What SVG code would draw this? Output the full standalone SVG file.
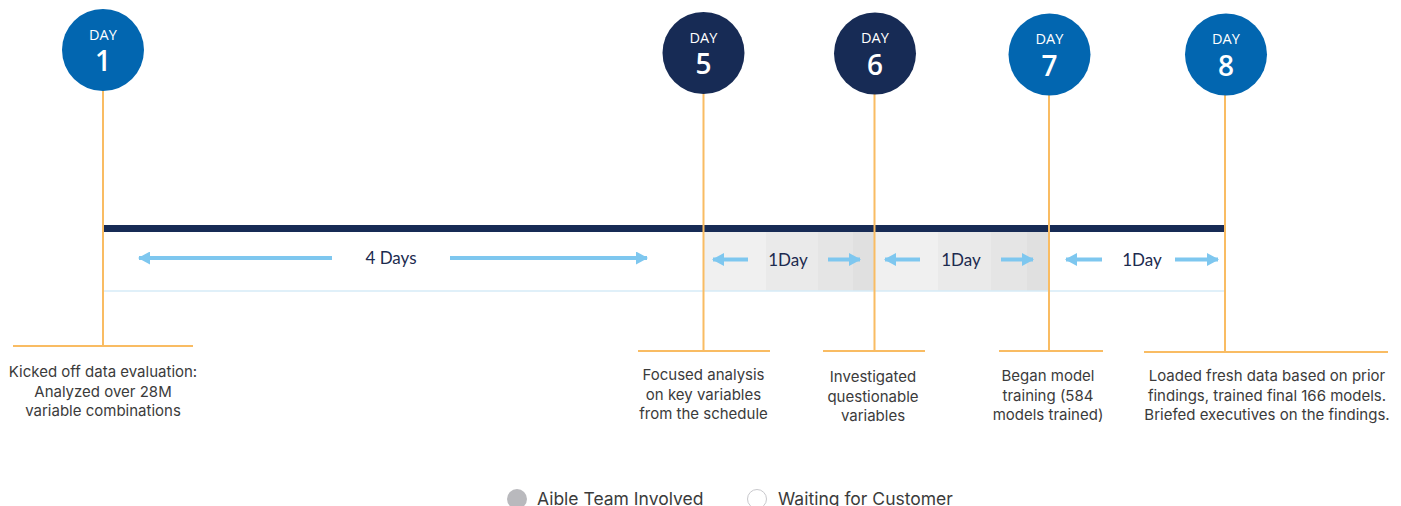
<svg xmlns="http://www.w3.org/2000/svg" width="1401" height="506" viewBox="0 0 1401 506">
  <style>
    .bg { fill: #ffffff; }
    .badge-blue { fill: #0266b0; }
    .badge-navy { fill: #172b55; }
    .badge-day { font-family: "Open Sans", "Noto Sans", sans-serif; font-size: 14.5px; fill: #ffffff; text-anchor: middle; }
    .badge-num { font-family: "Open Sans", "Noto Sans", sans-serif; font-size: 28px; font-weight: 600; fill: #ffffff; text-anchor: middle; }
    .stem { stroke: #f9bc63; stroke-width: 2; fill: none; }
    .desc { font-family: Inter, "Noto Sans", sans-serif; font-size: 15px; fill: #3b3b3b; text-anchor: middle; }
    .span { font-family: Lato, Inter, sans-serif; font-size: 17px; fill: #1c2b4f; text-anchor: middle; }
    .shaft { stroke: #7ec7ef; stroke-width: 4; fill: none; }
    .legend { font-family: Inter, "Noto Sans", sans-serif; font-size: 17.5px; fill: #3b3b3b; }
  </style>
  <defs>
    <marker id="head" viewBox="0 0 12 13" refX="11" refY="6.5" markerWidth="12" markerHeight="13" markerUnits="userSpaceOnUse" orient="auto">
      <path d="M0,0 L12,6.5 L0,13 Z" fill="#7ec7ef"/>
    </marker>
  </defs>

  <rect class="bg" x="0" y="0" width="1401" height="506"/>

  <!-- shaded day bands between Day 5 and Day 7 -->
  <g id="bands">
    <rect x="703" y="232" width="63" height="59" fill="#f0f0f0"/>
    <rect x="766" y="232" width="52" height="59" fill="#eaeaea"/>
    <rect x="818" y="232" width="35" height="59" fill="#e5e5e5"/>
    <rect x="853" y="232" width="21" height="59" fill="#e0e0e0"/>
    <rect x="874" y="232" width="64" height="59" fill="#f0f0f0"/>
    <rect x="938" y="232" width="53" height="59" fill="#eaeaea"/>
    <rect x="991" y="232" width="36" height="59" fill="#e5e5e5"/>
    <rect x="1027" y="232" width="22" height="59" fill="#e0e0e0"/>
  </g>

  <!-- main timeline bar and base line -->
  <g id="timeline">
    <rect x="103" y="225" width="1122" height="7" fill="#172b55"/>
    <line x1="103" y1="291" x2="1224" y2="291" stroke="#d6ebf7" stroke-width="1.5"/>
  </g>

  <!-- duration arrows -->
  <g id="connectors">
    <line class="shaft" x1="332" y1="258" x2="139" y2="258" marker-end="url(#head)"/>
    <line class="shaft" x1="450" y1="258" x2="647" y2="258" marker-end="url(#head)"/>
    <line class="shaft" x1="748" y1="259.5" x2="713" y2="259.5" marker-end="url(#head)"/>
    <line class="shaft" x1="828" y1="259.5" x2="860" y2="259.5" marker-end="url(#head)"/>
    <line class="shaft" x1="920" y1="259.5" x2="885" y2="259.5" marker-end="url(#head)"/>
    <line class="shaft" x1="1001" y1="259.5" x2="1033" y2="259.5" marker-end="url(#head)"/>
    <line class="shaft" x1="1102" y1="259.5" x2="1066" y2="259.5" marker-end="url(#head)"/>
    <line class="shaft" x1="1175" y1="259.5" x2="1218" y2="259.5" marker-end="url(#head)"/>
  </g>

  <g id="spans">
    <text class="span" x="391" y="264">4 Days</text>
    <text class="span" x="788" y="266">1Day</text>
    <text class="span" x="961" y="266">1Day</text>
    <text class="span" x="1142" y="266">1Day</text>
  </g>

  <g id="day1">
    <path class="stem" d="M103,90 V346 M13,346 H193"/>
    <circle class="badge-blue" cx="103" cy="50" r="41"/>
    <text class="badge-day" x="103" y="39.5">DAY</text>
    <text class="badge-num" x="103" y="71">1</text>
    <text class="desc" x="103" y="377">Kicked off data evaluation:</text>
    <text class="desc" x="103" y="396.5">Analyzed over 28M</text>
    <text class="desc" x="103" y="416">variable combinations</text>
  </g>

  <g id="day5">
    <path class="stem" d="M703.5,93 V351 M638,351 H770"/>
    <circle class="badge-navy" cx="703.5" cy="53" r="41"/>
    <text class="badge-day" x="703.5" y="42.5">DAY</text>
    <text class="badge-num" x="703.5" y="74">5</text>
    <text class="desc" x="703.5" y="380">Focused analysis</text>
    <text class="desc" x="703.5" y="399.5">on key variables</text>
    <text class="desc" x="703.5" y="419">from the schedule</text>
  </g>

  <g id="day6">
    <path class="stem" d="M874.5,94 V351 M823,351 H925"/>
    <circle class="badge-navy" cx="875" cy="53.5" r="41"/>
    <text class="badge-day" x="875" y="43">DAY</text>
    <text class="badge-num" x="875" y="74.5">6</text>
    <text class="desc" x="873" y="382">Investigated</text>
    <text class="desc" x="873" y="401.5">questionable</text>
    <text class="desc" x="873" y="421">variables</text>
  </g>

  <g id="day7">
    <path class="stem" d="M1049,95 V351 M999,351 H1103"/>
    <circle class="badge-blue" cx="1049.5" cy="54.5" r="41"/>
    <text class="badge-day" x="1049.5" y="44">DAY</text>
    <text class="badge-num" x="1049.5" y="75.5">7</text>
    <text class="desc" x="1048" y="381">Began model</text>
    <text class="desc" x="1048" y="400.5">training (584</text>
    <text class="desc" x="1048" y="420">models trained)</text>
  </g>

  <g id="day8">
    <path class="stem" d="M1225,95 V352 M1144,352 H1388"/>
    <circle class="badge-blue" cx="1226" cy="54.5" r="41"/>
    <text class="badge-day" x="1226" y="44">DAY</text>
    <text class="badge-num" x="1226" y="75.5">8</text>
    <text class="desc" x="1267" y="381">Loaded fresh data based on prior</text>
    <text class="desc" x="1267" y="400.5">findings, trained final 166 models.</text>
    <text class="desc" x="1267" y="420">Briefed executives on the findings.</text>
  </g>

  <g id="legend">
    <circle cx="517" cy="499" r="10" fill="#b9b9bd"/>
    <text class="legend" x="537" y="505">Aible Team Involved</text>
    <circle cx="757" cy="499" r="9.5" fill="#ffffff" stroke="#c8c8cc" stroke-width="1"/>
    <text class="legend" x="778" y="505">Waiting for Customer</text>
  </g>
</svg>
